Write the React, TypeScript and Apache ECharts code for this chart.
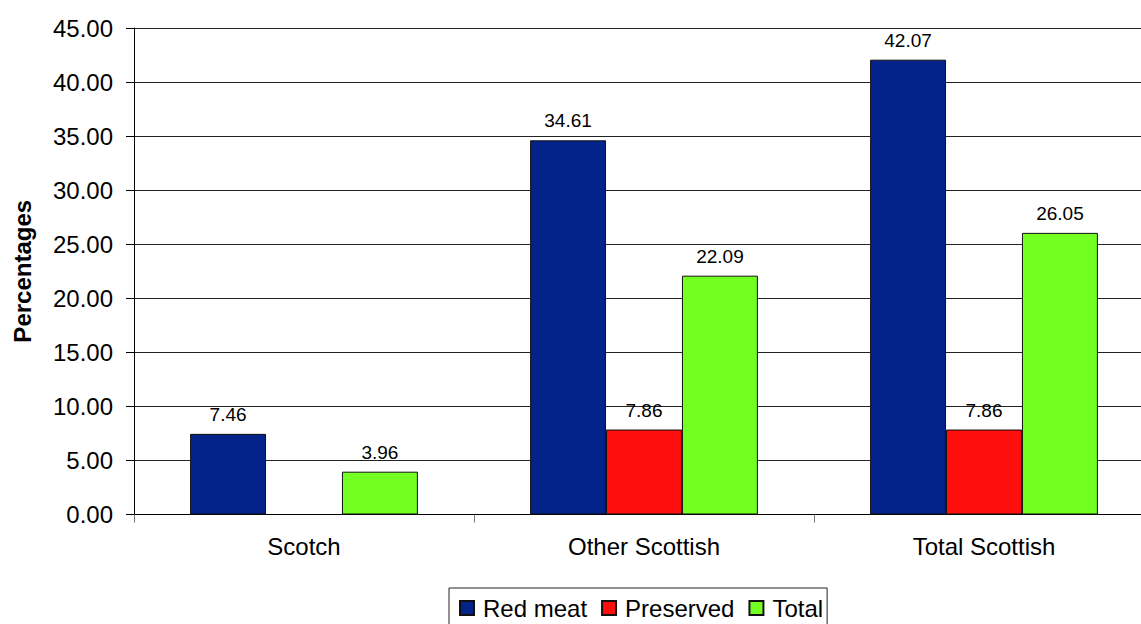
import React, { useEffect, useRef } from "react";
import * as echarts from "echarts";

// Categories along the x axis
const categories = ["Scotch", "Other Scottish", "Total Scottish"];

// Series values (percentages); Scotch has no preserved value
const redMeat = [7.46, 34.61, 42.07];
const preserved = [null, 7.86, 7.86];
const total = [3.96, 22.09, 26.05];

// Value axis range
const yMin = 0;
const yMax = 45;
const yStep = 5;

const FONT = "'Liberation Sans', Arial, sans-serif";

const seriesDefs = [
  { name: "Red meat", data: redMeat, color: "#03238a" },
  { name: "Preserved", data: preserved, color: "#ff0e0e" },
  { name: "Total", data: total, color: "#74ff22" },
];

export default function App() {
  const ref = useRef<HTMLDivElement>(null);

  useEffect(() => {
    document.body.style.margin = "0";
    if (!ref.current) return;
    const chart = echarts.init(ref.current, null, { renderer: "svg" });
    chart.setOption({
      animation: false,
      backgroundColor: "#ffffff",
      textStyle: { fontFamily: FONT },
      // plot area runs a little past the right edge of the canvas
      grid: {
        left: 134,
        top: 28,
        width: 1020,
        height: 486.5,
        containLabel: false,
        outerBoundsMode: "none",
      },
      legend: {
        left: 449,
        top: 588,
        itemWidth: 14,
        itemHeight: 14,
        itemGap: 14,
        icon: "rect",
        borderColor: "#222",
        borderWidth: 1,
        padding: [8, 4, 8, 10],
        textStyle: { fontSize: 24, color: "#000", fontFamily: FONT, padding: [0, 0, 0, 4] },
        data: seriesDefs.map((s) => s.name),
      },
      xAxis: {
        type: "category",
        data: categories,
        axisLine: { lineStyle: { color: "#000", width: 1 } },
        axisTick: { show: true, length: 8, lineStyle: { color: "#777" } },
        axisLabel: { fontSize: 24, color: "#000", margin: 20, fontFamily: FONT },
      },
      yAxis: {
        type: "value",
        min: yMin,
        max: yMax,
        interval: yStep,
        name: "Percentages",
        nameLocation: "middle",
        nameGap: 100,
        nameTextStyle: { fontSize: 24, fontWeight: "bold", color: "#000", fontFamily: FONT },
        axisLine: { show: true, lineStyle: { color: "#000", width: 1 } },
        axisTick: { show: true, length: 8, lineStyle: { color: "#000" } },
        axisLabel: {
          fontSize: 24,
          color: "#000",
          margin: 21,
          fontFamily: FONT,
          formatter: (v: number) => v.toFixed(2),
        },
        splitLine: { show: true, lineStyle: { color: "#222", width: 1 } },
      },
      series: seriesDefs.map((s) => ({
        name: s.name,
        type: "bar",
        data: s.data,
        barGap: "0%",
        barCategoryGap: "33%",
        itemStyle: { color: s.color, borderColor: "#111", borderWidth: 1 },
        label: {
          show: true,
          position: "top",
          distance: 10,
          fontSize: 19,
          color: "#000",
          fontFamily: FONT,
          formatter: (p: any) => (p.value == null ? "" : Number(p.value).toFixed(2)),
        },
      })),
    });
    return () => chart.dispose();
  }, []);

  return <div ref={ref} style={{ width: 1141, height: 624 }} />;
}
